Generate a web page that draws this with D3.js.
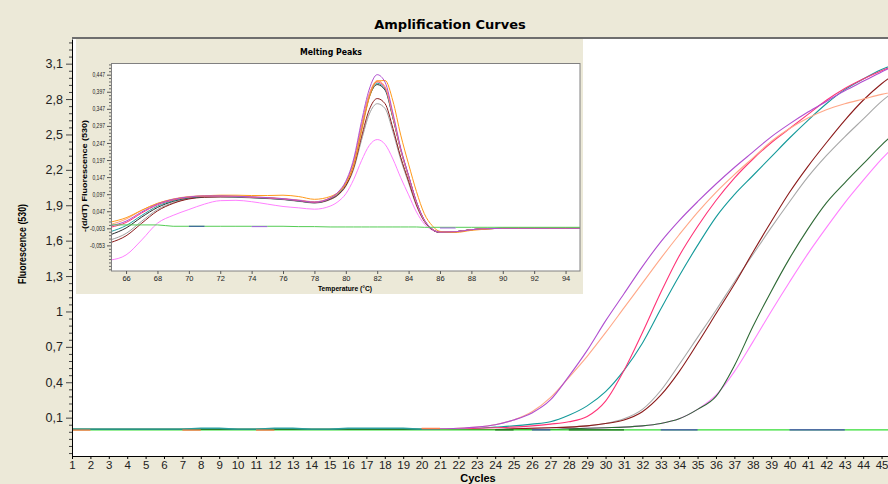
<!DOCTYPE html>
<html><head><meta charset="utf-8">
<script src="https://cdn.jsdelivr.net/npm/d3@7"></script>
<style>html,body{margin:0;padding:0;background:#ece9d8;} svg{display:block}</style>
</head><body><svg id="c" width="888" height="484"></svg>
<script>
// ---------- Main chart data (Amplification Curves) ----------
const cycles = [1,2,3,4,5,6,7,8,9,10,11,12,13,14,15,16,17,18,19,20,21,22,23,24,25,26,27,28,29,30,31,32,33,34,35,36,37,38,39,40,41,42,43,44,45,46];
const cycleTicks = [1,2,3,4,5,6,7,8,9,10,11,12,13,14,15,16,17,18,19,20,21,22,23,24,25,26,27,28,29,30,31,32,33,34,35,36,37,38,39,40,41,42,43,44,45];
const fluoTicks = [0.1,0.4,0.7,1,1.3,1.6,1.9,2.2,2.5,2.8,3.1];

const ampPurple = [0,0,0,0,0,0,0,0,0,0,0,0,0,0,0,0,0,0,0,0,0.005,0.01,0.02,0.04,0.08,0.14,0.25,0.45,0.67,0.92,1.15,1.38,1.59,1.77,1.93,2.08,2.22,2.35,2.48,2.59,2.69,2.78,2.87,2.95,3.03,3.10];
const ampSalmon = [0,0,0,0,0,0,0,0,0,0,0,0,0,0,0,0,0,0,0,0,0.005,0.01,0.02,0.04,0.08,0.15,0.27,0.44,0.62,0.82,1.03,1.24,1.45,1.65,1.84,2.01,2.16,2.30,2.44,2.55,2.64,2.71,2.76,2.80,2.84,2.87];
const ampPinkRed = [0,0,0,0,0,0,0,0,0,0,0,0,0,0,0,0,0,0,0,0,0,0.005,0.01,0.015,0.02,0.03,0.045,0.065,0.11,0.24,0.50,0.82,1.16,1.47,1.72,1.94,2.13,2.29,2.43,2.55,2.67,2.79,2.89,2.97,3.04,3.10];
const ampTeal = [0,0,0,0,0,0,0,0,0,0,0,0,0,0,0,0,0,0,0,0,0,0.005,0.01,0.02,0.03,0.045,0.065,0.12,0.20,0.32,0.50,0.73,1.02,1.30,1.56,1.80,1.99,2.15,2.31,2.47,2.62,2.76,2.88,2.97,3.05,3.11];
const ampDarkRed = [0,0,0,0,0,0,0,0,0,0,0,0,0,0,0,0,0,0,0,0,0,0,0,0,0.005,0.01,0.015,0.02,0.03,0.05,0.08,0.15,0.29,0.49,0.73,0.98,1.23,1.50,1.76,2.01,2.23,2.43,2.62,2.79,2.93,3.04];
const ampGray = [0,0,0,0,0,0,0,0,0,0,0,0,0,0,0,0,0,0,0,0,0,0,0,0,0.005,0.01,0.015,0.02,0.03,0.05,0.09,0.17,0.33,0.55,0.78,1.01,1.25,1.48,1.71,1.93,2.14,2.32,2.48,2.63,2.78,2.90];
const ampDarkGreen = [0,0,0,0,0,0,0,0,0,0,0,0,0,0,0,0,0,0,0,0,0,0,0,0,0,0,0,0.005,0.01,0.015,0.02,0.03,0.05,0.09,0.17,0.28,0.54,0.87,1.17,1.45,1.70,1.92,2.09,2.25,2.41,2.55];
const ampLightPink = [0,0,0,0,0,0,0,0,0,0,0,0,0,0,0,0,0,0,0,0,0,0,0,0,0,0,0,0.005,0.01,0.015,0.02,0.03,0.05,0.09,0.17,0.29,0.49,0.74,1.00,1.25,1.49,1.71,1.92,2.11,2.29,2.45];

// negatives (flat baseline samples)
const negGreen = [-0.004,-0.004,-0.004,-0.004,-0.004,-0.004,-0.004,-0.004,-0.004,-0.004,-0.004,-0.004,-0.004,-0.004,-0.004,-0.004,-0.004,-0.004,-0.004,-0.004,-0.004,-0.004,-0.004,-0.004,-0.004,-0.004,-0.004,-0.004,-0.004,-0.004,-0.004,-0.004,-0.004,-0.004,-0.004,-0.004,-0.004,-0.004,-0.004,-0.004,-0.004,-0.004,-0.004,-0.004,-0.004,-0.004];
const negDark = [0.002,0.002,0.002,0.002,0.002,0.002,0.002,0.002,0.002,0.002,0.002,0.002,0.002,0.002,0.002,0.002,0.002,0.002,0.002,0.002,0.002,null,null,-0.004,-0.004,null,null,-0.004,-0.004,-0.004,-0.004,null,null,null,null,null,null,null,null,null,null,null,null,null,null,null];
const negBlue = [null,null,null,null,null,null,null,null,null,null,null,null,null,null,null,null,null,null,null,null,null,null,null,null,null,-0.004,-0.004,null,null,null,null,null,-0.004,-0.004,-0.004,null,-0.004,null,null,-0.004,-0.004,-0.004,-0.004,null,null,null];
const negTeal = [0.002,0.002,0.002,0.002,0.002,0.002,0.002,0.01,0.01,0.002,0.002,0.01,0.01,0.002,0.002,0.01,0.01,0.01,0.01,0.002,0.002,null,null,null,null,null,null,null,null,null,null,null,null,null,null,null,null,null,null,null,null,null,null,null,null,null];
const negOrange = [-0.005,-0.005,null,null,null,null,-0.005,-0.005,null,null,-0.005,-0.005,null,null,null,null,null,null,null,0.008,0.008,null,null,null,null,null,null,null,null,null,null,null,null,null,null,null,null,null,null,null,null,null,null,null,null,null];

// ---------- Inset data (Melting Peaks) ----------
const temps = [65,66,67,68,69,70,71,72,73,74,75,76,77,78,79,79.5,80,80.5,81,81.5,82,82.5,83,83.5,84,84.5,85,85.5,86,87,88,89,90,91,92,93,94,95];
const tempTicks = [66,68,70,72,74,76,78,80,82,84,86,88,90,92,94];
const derivTicks = [-0.053,-0.003,0.047,0.097,0.147,0.197,0.247,0.297,0.347,0.397,0.447];

const mPurple = [0.004,0.018,0.045,0.068,0.082,0.089,0.092,0.092,0.091,0.089,0.087,0.084,0.079,0.074,0.086,0.103,0.135,0.200,0.310,0.405,0.447,0.425,0.335,0.232,0.152,0.075,0.022,-0.005,-0.014,-0.013,-0.007,-0.004,-0.003,-0.003,-0.003,-0.003,-0.003,-0.003];
const mOrange = [0.015,0.028,0.050,0.070,0.082,0.089,0.092,0.094,0.094,0.093,0.093,0.094,0.090,0.082,0.090,0.102,0.128,0.180,0.280,0.380,0.428,0.430,0.370,0.270,0.185,0.105,0.040,0.005,-0.012,-0.015,-0.009,-0.005,-0.003,-0.003,-0.003,-0.003,-0.003,-0.003];
const mSalmon = [0.008,0.024,0.050,0.070,0.083,0.090,0.092,0.092,0.091,0.089,0.087,0.084,0.080,0.075,0.086,0.100,0.130,0.190,0.295,0.390,0.430,0.412,0.325,0.226,0.148,0.072,0.020,-0.005,-0.014,-0.013,-0.007,-0.004,-0.003,-0.003,-0.003,-0.003,-0.003,-0.003];
const mTeal = [-0.013,0.005,0.035,0.062,0.078,0.087,0.090,0.090,0.089,0.087,0.085,0.082,0.077,0.072,0.084,0.098,0.128,0.188,0.290,0.385,0.422,0.405,0.322,0.228,0.150,0.074,0.021,-0.005,-0.014,-0.013,-0.007,-0.004,-0.003,-0.003,-0.003,-0.003,-0.003,-0.003];
const mPinkRed = [0.000,0.014,0.042,0.066,0.080,0.088,0.091,0.091,0.090,0.088,0.086,0.083,0.078,0.073,0.085,0.100,0.130,0.192,0.295,0.390,0.426,0.408,0.325,0.228,0.150,0.074,0.021,-0.005,-0.014,-0.013,-0.007,-0.004,-0.003,-0.003,-0.003,-0.003,-0.003,-0.003];
const mBlack = [-0.022,-0.002,0.030,0.058,0.076,0.086,0.090,0.091,0.090,0.088,0.086,0.083,0.078,0.073,0.084,0.099,0.128,0.188,0.288,0.382,0.418,0.402,0.320,0.226,0.149,0.073,0.020,-0.006,-0.015,-0.013,-0.007,-0.004,-0.003,-0.003,-0.003,-0.003,-0.003,-0.003];
const mDarkRed = [-0.045,-0.025,0.012,0.048,0.070,0.083,0.088,0.089,0.089,0.087,0.085,0.082,0.077,0.072,0.082,0.095,0.122,0.175,0.265,0.345,0.377,0.362,0.290,0.205,0.135,0.066,0.018,-0.006,-0.015,-0.013,-0.007,-0.004,-0.003,-0.003,-0.003,-0.003,-0.003,-0.003];
const mGray = [-0.037,-0.018,0.018,0.052,0.072,0.084,0.088,0.089,0.088,0.086,0.084,0.081,0.076,0.071,0.081,0.094,0.120,0.170,0.255,0.332,0.362,0.348,0.280,0.198,0.130,0.063,0.017,-0.006,-0.014,-0.013,-0.007,-0.004,-0.003,-0.003,-0.003,-0.003,-0.003,-0.003];
const mLightPink = [-0.096,-0.081,-0.037,0.012,0.035,0.052,0.068,0.078,0.079,0.075,0.068,0.061,0.057,0.053,0.062,0.075,0.098,0.140,0.195,0.240,0.257,0.243,0.200,0.145,0.095,0.045,0.010,-0.008,-0.015,-0.013,-0.007,-0.004,-0.003,-0.003,-0.003,-0.003,-0.003,-0.003];
const mNegGreen = [0.007,0.007,0.007,0.007,0.003,0.003,0.003,0.003,0.003,0.003,0.003,0.003,0.002,0.002,0.001,0.001,0.001,0.001,0.001,0.001,0.001,0.001,0.001,0.001,0.001,0.001,0.000,0.000,0.000,0.000,0.000,0.000,0.000,0.000,0.000,0.000,0.000,0.000];
const mNegBlue = [null,null,null,null,null,0.003,0.003,null,null,null,null,null,null,null,null,null,null,null,null,null,null,null,null,null,null,null,null,null,null,null,null,null,null,null,null,null,null,null];
const mNegViolet = [null,null,null,null,null,null,null,null,null,0.002,0.002,null,null,null,null,null,null,null,null,null,null,null,null,null,null,null,null,null,-0.002,-0.002,null,null,null,null,null,null,null,null];

// ---------- drawing ----------
const W = 888, H = 484;
const BG = '#ece9d8';
const svg = d3.select('#c');
svg.append('rect').attr('width', W).attr('height', H).attr('fill', BG);
const defs = svg.append('defs');

const FONT = "'Liberation Sans', Arial, sans-serif";
const fmt = d => String(+d.toFixed(3)).replace('.', ',');

// Main scales
const x = d3.scaleLinear().domain([1, 45.35]).range([72, 888]);
const y = d3.scaleLinear().domain([-0.225, 3.309]).range([456, 39]);

svg.append('rect').attr('x', 72).attr('y', 39).attr('width', 816).attr('height', 417).attr('fill', '#ffffff');
defs.append('clipPath').attr('id', 'clipMain').append('rect')
  .attr('x', 73).attr('y', 39).attr('width', 815).attr('height', 416);

svg.append('text').attr('x', 450).attr('y', 29).attr('text-anchor', 'middle')
  .attr('font-family', "'DejaVu Sans', Verdana, sans-serif").attr('font-weight', 'bold')
  .attr('font-size', 13).attr('fill', '#000').text('Amplification Curves');

const lineMain = d3.line().defined(d => d[1] != null)
  .x(d => x(d[0])).y(d => y(d[1])).curve(d3.curveMonotoneX);
const gMain = svg.append('g').attr('clip-path', 'url(#clipMain)');
const ampSeries = [
  [ampLightPink, '#ff80ff'], [ampDarkGreen, '#2f6a36'], [ampGray, '#a8a8a8'], [ampDarkRed, '#8b1a1a'],
  [ampTeal, '#149a9a'], [ampPinkRed, '#ff3377'], [ampSalmon, '#ffa888'], [ampPurple, '#b04fd0']
];
ampSeries.forEach(([vals, col]) => {
  gMain.append('path').datum(cycles.map((c, i) => [c, vals[i]]))
    .attr('d', lineMain).attr('fill', 'none').attr('stroke', col).attr('stroke-width', 1.1);
});
const negSeries = [
  [negGreen, '#33dd33'], [negDark, '#1e6a1e'], [negBlue, '#4848b8'], [negTeal, '#2a9d9d'], [negOrange, '#ff7f50']
];
negSeries.forEach(([vals, col]) => {
  gMain.append('path').datum(cycles.map((c, i) => [c, vals[i]]))
    .attr('d', lineMain).attr('fill', 'none').attr('stroke', col).attr('stroke-width', 1.3);
});

// Main axes
const minorY = d3.range(-0.2, 3.31, 0.06).filter(v => !fluoTicks.some(t => Math.abs(t - v) < 1e-6));
svg.append('g').attr('transform', 'translate(72,0)')
  .call(d3.axisLeft(y).tickValues(minorY).tickSize(3).tickSizeOuter(0).tickFormat(''))
  .call(g => g.select('.domain').remove());
const yAx = svg.append('g').attr('transform', 'translate(72,0)')
  .call(d3.axisLeft(y).tickValues(fluoTicks).tickSize(6).tickSizeOuter(0).tickFormat(fmt));
yAx.selectAll('text').attr('font-family', FONT).attr('font-size', 12.5).attr('fill', '#222');
svg.selectAll('.tick line').attr('stroke', '#444');

const xAx = svg.append('g').attr('transform', 'translate(0,456)')
  .call(d3.axisBottom(x).tickValues(cycleTicks).tickSize(3).tickSizeOuter(0).tickPadding(2).tickFormat(d => d));
xAx.selectAll('text').attr('font-family', FONT).attr('font-size', 11.5).attr('fill', '#222');
xAx.select('.domain').attr('stroke', '#000');
yAx.select('.domain').attr('stroke', '#000');

// top border
svg.append('line').attr('x1', 72).attr('x2', 888).attr('y1', 38).attr('y2', 38)
  .attr('stroke', '#6e6e6e').attr('stroke-width', 2);

svg.append('text').attr('x', 478).attr('y', 482).attr('text-anchor', 'middle')
  .attr('font-family', FONT).attr('font-weight', 'bold').attr('font-size', 11).text('Cycles');
svg.append('text').attr('transform', 'translate(26,244) rotate(-90)').attr('text-anchor', 'middle')
  .attr('font-family', FONT).attr('font-weight', 'bold').attr('font-size', 11)
  .attr('textLength', 80).attr('lengthAdjust', 'spacingAndGlyphs').text('Fluorescence (530)');

// ---------- Inset ----------
const gi = svg.append('g');
gi.append('rect').attr('x', 76).attr('y', 39).attr('width', 507).attr('height', 255).attr('fill', BG);
const xi = d3.scaleLinear().domain([65.04, 94.92]).range([111, 580]);
const yi = d3.scaleLinear().domain([-0.128, 0.4812]).range([271, 63]);
gi.append('rect').attr('x', 111).attr('y', 63).attr('width', 469).attr('height', 208).attr('fill', '#fff');
defs.append('clipPath').attr('id', 'clipInset').append('rect')
  .attr('x', 111).attr('y', 63).attr('width', 469).attr('height', 208);

const lineI = d3.line().defined(d => d[1] != null)
  .x(d => xi(d[0])).y(d => yi(d[1])).curve(d3.curveMonotoneX);
const gInC = gi.append('g').attr('clip-path', 'url(#clipInset)');
const meltSeries = [
  [mLightPink, '#ff80ff'], [mGray, '#a0a0a0'], [mDarkRed, '#8b1a1a'], [mBlack, '#2a2a2a'],
  [mTeal, '#20a0a0'], [mPinkRed, '#ff3377'], [mSalmon, '#ffa070'], [mOrange, '#ff9a1a'], [mPurple, '#b04fd0'],
  [mNegGreen, '#55cc55'], [mNegBlue, '#3050a0'], [mNegViolet, '#a060e0']
];
meltSeries.forEach(([vals, col]) => {
  gInC.append('path').datum(temps.map((t, i) => [t, vals[i]]))
    .attr('d', lineI).attr('fill', 'none').attr('stroke', col).attr('stroke-width', 1);
});
gi.append('rect').attr('x', 111.5).attr('y', 63.5).attr('width', 468.5).attr('height', 207.5)
  .attr('fill', 'none').attr('stroke', '#808080');

const minorI = d3.range(-0.123, 0.48, 0.01).filter(v => !derivTicks.some(t => Math.abs(t - v) < 1e-6));
gi.append('g').attr('transform', 'translate(111,0)')
  .call(d3.axisLeft(yi).tickValues(minorI).tickSize(2).tickSizeOuter(0).tickFormat(''))
  .call(g => g.select('.domain').remove())
  .selectAll('line').attr('stroke', '#666');
const yiAx = gi.append('g').attr('transform', 'translate(111,0)')
  .call(d3.axisLeft(yi).tickValues(derivTicks).tickSize(4).tickSizeOuter(0).tickPadding(2)
    .tickFormat(d => d.toFixed(3).replace('.', ',')));
yiAx.select('.domain').remove();
yiAx.selectAll('line').attr('stroke', '#555');
yiAx.selectAll('text').attr('font-family', FONT).attr('font-size', 6.5).attr('fill', '#222')
  .attr('textLength', d => (d < 0 ? 15 : 12.6)).attr('lengthAdjust', 'spacingAndGlyphs');

const xiAx = gi.append('g').attr('transform', 'translate(0,271)')
  .call(d3.axisBottom(xi).tickValues(tempTicks).tickSize(3).tickSizeOuter(0).tickPadding(2).tickFormat(d => d));
xiAx.select('.domain').remove();
xiAx.selectAll('line').attr('stroke', '#555');
xiAx.selectAll('text').attr('font-family', FONT).attr('font-size', 7.5).attr('fill', '#222');

gi.append('text').attr('x', 331).attr('y', 55).attr('text-anchor', 'middle')
  .attr('font-family', "'DejaVu Sans', Verdana, sans-serif").attr('font-weight', 'bold').attr('font-size', 8)
  .attr('textLength', 62).attr('lengthAdjust', 'spacingAndGlyphs').text('Melting Peaks');
gi.append('text').attr('x', 345).attr('y', 291).attr('text-anchor', 'middle')
  .attr('font-family', FONT).attr('font-weight', 'bold').attr('font-size', 7.5)
  .attr('textLength', 54).attr('lengthAdjust', 'spacingAndGlyphs').text('Temperature (°C)');
gi.append('text').attr('transform', 'translate(87,176) rotate(-90)').attr('text-anchor', 'middle')
  .attr('font-family', FONT).attr('font-weight', 'bold').attr('font-size', 6.5)
  .attr('textLength', 112).attr('lengthAdjust', 'spacingAndGlyphs').text('-(d/dT) Fluorescence (530)');
</script></body></html>
